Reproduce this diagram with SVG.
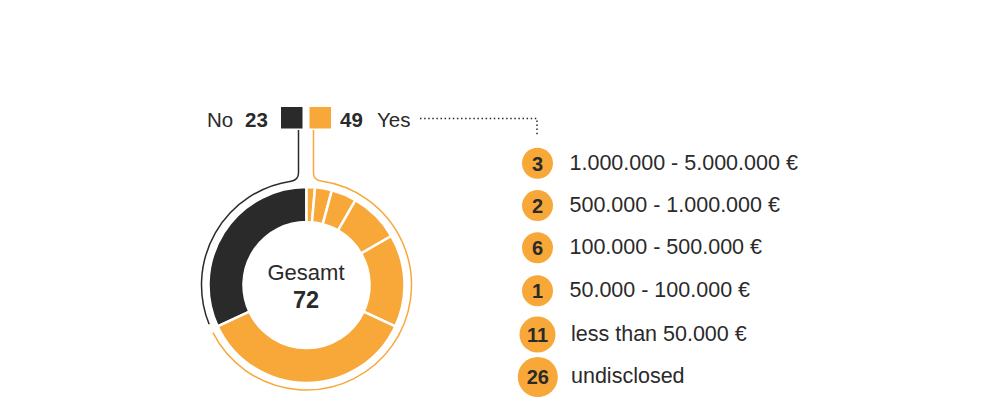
<svg xmlns="http://www.w3.org/2000/svg" width="1000" height="400" viewBox="0 0 1000 400">
  <style>
    .t { font-family: "Liberation Sans", Arial, sans-serif; fill: #2a2a2a; }
    .reg { font-size: 20.5px; }
    .b { font-weight: bold; }
    .lab { font-size: 21.5px; }
    .num { font-size: 20px; font-weight: bold; text-anchor: middle; }
    .or { fill: #f8a839; }
    .dk { fill: #2a2a2a; }
    .seg { stroke: #ffffff; stroke-width: 2.5; stroke-linejoin: miter; }
  </style>
  <rect width="1000" height="400" fill="#ffffff"/>

  <g id="legend-no">
    <text class="t reg" x="207" y="127">No</text>
    <text class="t reg b" x="245" y="127" font-size="23.5">23</text>
    <rect class="dk" x="281" y="107" width="21.5" height="21.5"/>
  </g>
  <g id="legend-yes">
    <rect class="or" x="309.5" y="107" width="21.5" height="21.5"/>
    <text class="t reg b" x="340" y="127" font-size="23.5">49</text>
    <text class="t reg" x="377" y="127">Yes</text>
  </g>

  <g id="donut">
    <path id="seg-no" class="dk seg" d="M217.68,326.42 A98,98 0 0 1 306.5,187 L306.5,222 A63,63 0 0 0 249.40,311.63 Z"/>
    <path id="seg-1" class="or seg" d="M306.5,187 A98,98 0 0 1 315.04,187.37 L311.99,222.24 A63,63 0 0 0 306.5,222 Z"/>
    <path id="seg-2" class="or seg" d="M315.04,187.37 A98,98 0 0 1 331.86,190.34 L322.81,224.15 A63,63 0 0 0 311.99,222.24 Z"/>
    <path id="seg-3" class="or seg" d="M331.86,190.34 A98,98 0 0 1 355.5,200.13 L338,230.44 A63,63 0 0 0 322.81,224.15 Z"/>
    <path id="seg-6" class="or seg" d="M355.5,200.13 A98,98 0 0 1 391.37,236 L361.06,253.5 A63,63 0 0 0 338,230.44 Z"/>
    <path id="seg-11" class="or seg" d="M391.37,236 A98,98 0 0 1 395.32,326.42 L363.60,311.63 A63,63 0 0 0 361.06,253.5 Z"/>
    <path id="seg-26" class="or seg" d="M395.32,326.42 A98,98 0 0 1 217.68,326.42 L249.40,311.63 A63,63 0 0 0 363.60,311.63 Z"/>
    <text class="t" x="306" y="280" font-size="22" text-anchor="middle">Gesamt</text>
    <text class="t b" x="306" y="307.5" font-size="23.5" text-anchor="middle">72</text>
  </g>

  <g id="connectors" fill="none">
    <path d="M298.5,130 V173 Q298.5,180.03 291,181.15 A105,105 0 0 0 209.15,324.33" stroke="#2a2a2a" stroke-width="1.5"/>
    <path d="M313.5,130 V173 Q313.5,180.03 321,181.01 A105,105 0 1 1 212.94,332.67" stroke="#f8a839" stroke-width="1.5"/>
    <path d="M420,118.5 H537 V136" stroke="#2a2a2a" stroke-width="1.5" stroke-dasharray="1.5 2.6"/>
  </g>

  <g id="row-3">
    <circle class="or" cx="537.5" cy="163.3" r="15.5"/>
    <text class="t num" x="537.5" y="170.5">3</text>
    <text class="t lab" x="569.5" y="169.5">1.000.000 - 5.000.000 €</text>
  </g>
  <g id="row-2">
    <circle class="or" cx="537.5" cy="205.6" r="15.5"/>
    <text class="t num" x="537.5" y="212.8">2</text>
    <text class="t lab" x="569.5" y="211.8">500.000 - 1.000.000 €</text>
  </g>
  <g id="row-6">
    <circle class="or" cx="537.5" cy="247.8" r="15.5"/>
    <text class="t num" x="537.5" y="255">6</text>
    <text class="t lab" x="569.5" y="254">100.000 - 500.000 €</text>
  </g>
  <g id="row-1">
    <circle class="or" cx="537.5" cy="290.8" r="15.5"/>
    <text class="t num" x="537.5" y="298">1</text>
    <text class="t lab" x="569.5" y="297">50.000 - 100.000 €</text>
  </g>
  <g id="row-11">
    <circle class="or" cx="537.5" cy="334.5" r="18"/>
    <text class="t num" x="537.5" y="341.7">11</text>
    <text class="t lab" x="571" y="340.8">less than 50.000 €</text>
  </g>
  <g id="row-26">
    <circle class="or" cx="537.8" cy="377" r="20"/>
    <text class="t num" x="537.8" y="384.4" font-size="21">26</text>
    <text class="t lab" x="571" y="382.5">undisclosed</text>
  </g>
</svg>
